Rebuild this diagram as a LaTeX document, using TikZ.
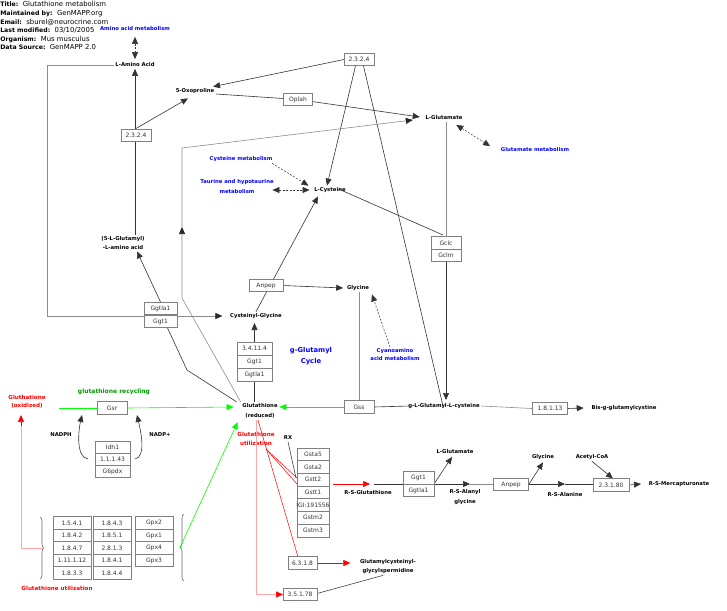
\documentclass[tikz,border=0pt]{standalone}
\usepackage{fontspec}
\setmainfont{DejaVu Sans}
\usetikzlibrary{arrows.meta,decorations.pathreplacing}

\begin{document}
\begin{tikzpicture}[x=1pt,y=-1pt,line width=0.6pt,>={Triangle[length=7pt,width=6pt]},
  met/.style={font=\fontsize{5.3}{9}\selectfont\bfseries,align=center,inner sep=1.5pt},
  tallmet/.style={met,font=\fontsize{5.3}{10}\selectfont\bfseries},
  pw/.style={met,text=blue},
  gene/.style={draw=black!50,fill=white,text=black!80,font=\fontsize{6}{7}\selectfont,
    minimum width=#1,minimum height=12.5pt,inner sep=0pt},
  gene/.default=30pt,
  lk/.style={draw=black!80},
  lt/.style={draw=black!45},
  ltarr/.style={lt,-{Triangle[length=7pt,width=6pt,color=black!85]}},
  dsh/.style={draw=black!80,dash pattern=on 2pt off 1.5pt,line width=0.5pt}]
\useasboundingbox (0,0) rectangle (727,610);
% 标题信息
\node[anchor=north west,inner sep=0pt,align=left,font=\fontsize{6.9}{8.65}\selectfont] (hdr) at (0,1.2)
  {{\fontsize{6.2}{8}\selectfont\bfseries Title:}\ \ Glutathione metabolism\\
   {\fontsize{6.2}{8}\selectfont\bfseries Maintained by:}\ \ GenMAPP.org\\
   {\fontsize{6.2}{8}\selectfont\bfseries Email:}\ \ sburel@neurocrine.com\\
   {\fontsize{6.2}{8}\selectfont\bfseries Last modified:}\ \ 03/10/2005\\
   {\fontsize{6.2}{8}\selectfont\bfseries Organism:}\ \ Mus musculus\\
   {\fontsize{6.2}{8}\selectfont\bfseries Data Source:}\ \ GenMAPP 2.0};
% ---------- 代谢物 ----------
\node[met] (laa) at (135,65) {L-Amino Acid};
\node[met] (oxo) at (195,91) {5-Oxoproline};
\node[met] (lglu) at (444,118) {L-Glutamate};
\node[met] (lcys) at (330,190) {L-Cysteine};
\node[met] (glam) at (123,243) {(5-L-Glutamyl)\\-L-amino acid};
\node[met] (cysgly) at (256,316) {Cysteinyl-Glycine};
\node[met] (gly) at (358,288) {Glycine};
\node[tallmet] (gsh) at (260,411) {Glutathione\\(reduced)};
\node[met,text=red,font=\fontsize{5.6}{8}\selectfont\bfseries] (gssg) at (27,402) {Gluthatione\\(oxidized)};
\node[met] (gglc) at (444,406) {g-L-Glutamyl-L-cysteine};
\node[met] (bisg) at (624,408) {Bis-g-glutamylcystine};
\node[met,anchor=north] (rsg) at (368,489) {R-S-Glutathione};
\node[met] (lglu2) at (455,452) {L-Glutamate};
\node[tallmet] (rsag) at (465,497) {R-S-Alanyl\\glycine};
\node[met] (gly2) at (543,457) {Glycine};
\node[met] (rsa) at (565,495) {R-S-Alanine};
\node[met] (acoa) at (592,457) {Acetyl-CoA};
\node[met] (rsm) at (679,484) {R-S-Mercapturonate};
\node[met] (gcgs) at (388,566.5) {Glutamylcysteinyl-\\glycylspermidine};
\node[met] (rx) at (288,438) {RX};
\node[met] (nadph) at (61,435) {NADPH};
\node[met] (nadp) at (160,435) {NADP+};
% ---------- 通路标签 ----------
\node[pw] (aamet) at (135,29) {Amino acid metabolism};
\node[pw] (cysmet) at (241,159) {Cysteine metabolism};
\node[pw,font=\fontsize{5.3}{10}\selectfont\bfseries] (taumet) at (237,187) {Taurine and hypotaurine\\metabolism};
\node[pw] (glumet) at (535,150) {Glutamate metabolism};
\node[pw,font=\fontsize{5.3}{8}\selectfont\bfseries] (cyanmet) at (395,355) {Cyanoamino\\acid metabolism};
\node[pw,font=\fontsize{6.8}{11}\selectfont\bfseries] (cycle) at (311,356.5) {g-Glutamyl\\Cycle};
\node[met,text=green!60!black,font=\fontsize{6}{8}\selectfont\bfseries] (recyc) at (114,392) {glutathione recycling};
\node[met,text=red,font=\fontsize{5.6}{9}\selectfont\bfseries] (util) at (256,438.5) {Glutathione\\utilization};
\node[met,text=red,font=\fontsize{5.6}{8}\selectfont\bfseries] (utilb) at (57,588) {Glutathione utilization};
% ---------- 连线（先画，基因框覆盖其上） ----------
\draw[dsh,<->] ([yshift=-4pt]aamet.south) -- ([yshift=2pt]laa.north);
\draw[ltarr] (laa.west) -- ++(-66,0) |- ([xshift=-6pt]cysgly.west);
\draw[lk,->] (glam.north -| laa.south) -- (laa.south);
\draw[lk,->] (136,128.5) -- ([xshift=-7pt,yshift=-3pt]oxo.south);
\draw[lk,->] (344,59.5) -- ([xshift=-3pt]oxo.north east);
\draw[lk] ([yshift=-3pt]oxo.east) -- (298,99.5);
\draw[lk,->] (298,99.5) -- ([xshift=-4pt,yshift=1pt]lglu.west);
\draw[lk,->] ([xshift=-2pt]359,59.5) -- ([xshift=-3pt]lcys.north);
\draw[lk] ([xshift=3pt]359,59.5) -- ([xshift=-1pt]gglc.center);
% 谷胱甘肽 -> L-Glutamate 的灰线
\coordinate (upt) at (182,227);
\draw[ltarr] (gsh.north west) -- (182,298) -- (upt);
\draw[ltarr] (upt) -- (182,148) -- ([xshift=-11pt,yshift=-2pt]lglu.west);
\draw[lk,->] (160.5,302) -- ([xshift=14pt]glam.south);
\draw[lk] (167.5,328) -- (187,370) -- ([xshift=-4pt]gsh.north west);
\draw[lk,->] (254.5,342) -- (254.5,323);
\draw[lk] (254.5,381) -- (gsh.north -| 254.5,381);
\draw[lk,->] (cysgly.north) -- ([xshift=-12pt,yshift=-2pt]lcys.south);
\draw[lk,->] (283,285.5) -- ([xshift=-2pt]gly.west);
\draw[lt] (359,401) -- (gly.south -| 359,401);
\draw[draw=green,->] (344,407) -- ([yshift=4pt]gsh.east);
\draw[lk] (374,407) -- ([xshift=3pt]gglc.west);
\draw[lt] (446,122) -- (446,237);
\draw[lk] ([xshift=-9pt,yshift=1pt]lcys.east) -- (443,235);
\draw[lk,->] (446,262) -- (446,400);
\draw[lt] (gglc.east) -- (532,408.5);
\draw[lk,->] (567,408.5) -- ([xshift=-6pt]bisg.west);
\draw[dsh,->] ([xshift=-2pt]cysmet.south east) -- ([xshift=-4pt]lcys.north west);
\draw[dsh,<->] ([yshift=-3pt,xshift=-3pt]taumet.east) -- ([xshift=-3pt]lcys.west);
\draw[dsh,<->] ([xshift=-8pt,yshift=-3pt]lglu.south east) -- ([xshift=-9pt]glumet.north west);
\draw[dsh,->] ([xshift=-5pt]cyanmet.north) -- ([xshift=14pt,yshift=-2pt]gly.south);
% ---------- 谷胱甘肽循环 ----------
\coordinate (gstart) at (59,408);
\draw[draw=green] (gstart) -- (97,408);
\draw[draw=green,->] (127,408) -- ([xshift=-7pt,yshift=4pt]gsh.west);
\draw[lk,->] (88,459) .. controls (75,457) and (79,428) .. (82,415);
\draw[lk,->] (135,459) .. controls (147,457) and (140,428) .. (137,415);
% 大括号
\draw[draw=black!60,decorate,decoration={brace,amplitude=4pt}] (40,517) -- (40,579);
\draw[draw=black!60,decorate,decoration={brace,amplitude=4pt}] (184,581) -- (184,514);
\coordinate (lbr) at (44,548);
\coordinate (rbr) at (180,547.5);
\draw[draw=red!35] (lbr) -| (21,425);
\draw[red,->] (21,426) -- (21,415);
\draw[draw=green,->] (rbr) -- ([xshift=-3pt,yshift=-2pt]gsh.south west);
% ---------- 谷胱甘肽利用 ----------
\draw[draw=red,line width=0.5pt] ([xshift=-2pt]gsh.south) -- (298,557);
\draw[draw=red,line width=0.5pt] ([xshift=10pt,yshift=-2pt]util.south) -- (297,478);
\draw[draw=red,line width=0.5pt] ([xshift=10pt,yshift=-2pt]util.south) -- (297,484);
\draw[draw=red!35,-{Triangle[length=7pt,width=6pt,color=red]}] ([xshift=-4pt]gsh.south) |- (283,594.5);
\draw[draw=black!75] (rx.south) -- (296,478);
\draw[draw=red,->] (333,484) -- ([xshift=2pt,yshift=5pt]rsg.north);
\draw[lk] ([xshift=6pt,yshift=5pt]rsg.north) -- (403,484);
\coordinate (ja) at (470,484);
\coordinate (jb) at (565,484);
\draw[lk,->] (434,484) -- ([xshift=-3pt,yshift=-1pt]lglu2.south);
\draw[lk,->] (434,484) -- (ja);
\draw[lt] (ja) -- (494,484);
\draw[lk,->] (529,484) -- ([yshift=-1pt]gly2.south);
\draw[lk,->] (529,484) -- (jb);
\draw[lk] (jb) -- (593,484);
\draw[lk,->] (acoa.south) -- (613,478.5);
\draw[lk,->] (629,485) -- ([xshift=-6pt]rsm.west);
\draw[draw=red,->] (317,563) -- ([xshift=-8pt]gcgs.west |- 317,563);
\draw[draw=black!75] (317,593.5) -- ([xshift=-5pt]gcgs.south);
% ---------- 基因框 ----------
\node[gene] (ecA) at (136,135.5) {2.3.2.4};
\node[gene] (ecB) at (359,59.5) {2.3.2.4};
\node[gene=29pt] (oplah) at (298,99.5) {Oplah};
\node[gene=33pt] (ggtlaA) at (160.5,308.5) {Ggtla1};
\node[gene=33pt] (ggtA) at (160.5,321.5) {Ggt1};
\node[gene=34pt] (anpepA) at (266,285.5) {Anpep};
\foreach \g [count=\i] in {3.4.11.4,Ggt1,Ggtla1}
  \node[gene=35pt,minimum height=13pt] (cyc\i) at (254.5,335.5+13*\i) {\g};
\node[gene] (gclc) at (446,243) {Gclc};
\node[gene] (gclm) at (446,255.5) {Gclm};
\node[gene] (gss) at (359,407) {Gss};
\node[gene=35pt] (ecC) at (550,408.5) {1.8.1.13};
\node[gene] (gsr) at (112,408) {Gsr};
\foreach \g [count=\i] in {Idh1,1.1.1.43,G6pdx}
  \node[gene=35pt,minimum height=12.3pt] (nad\i) at (112.5,434.7+12.3*\i) {\g};
\foreach \g [count=\i] in {Gsta5,Gsta2,Gstt2,Gstt1,IGI:191556,Gstm2,Gstm3}
  \node[gene=32pt,minimum height=12.7pt] (gst\i) at (313,441.6+12.7*\i) {\makebox[30pt]{\g}};
\node[gene=31pt] (ggtB) at (418.5,478) {Ggt1};
\node[gene=31pt] (ggtlaB) at (418.5,490.5) {Ggtla1};
\node[gene=35pt] (anpepB) at (511,484.5) {Anpep};
\node[gene=36pt] (ecD) at (611,485) {2.3.1.80};
\node[gene=29pt] (ecE) at (302.5,563) {6.3.1.8};
\node[gene=34pt,minimum height=11.5pt] (ecF) at (300,594.5) {3.5.1.78};
% 左下三列表格
\foreach \g [count=\i] in {1.5.4.1,1.8.4.2,1.8.4.7,1.11.1.12,1.8.3.3}
  \node[gene=38pt] (ta\i) at (72,510.5+12.5*\i) {\g};
\foreach \g [count=\i] in {1.8.4.3,1.8.5.1,2.8.1.3,1.8.4.1,1.8.4.4}
  \node[gene=38pt] (tb\i) at (112,510.5+12.5*\i) {\g};
\foreach \g [count=\i] in {Gpx2,Gpx1,Gpx4,Gpx3}
  \node[gene=38pt] (tc\i) at (154,510.5+12.5*\i) {\g};
\end{tikzpicture}
\end{document}
